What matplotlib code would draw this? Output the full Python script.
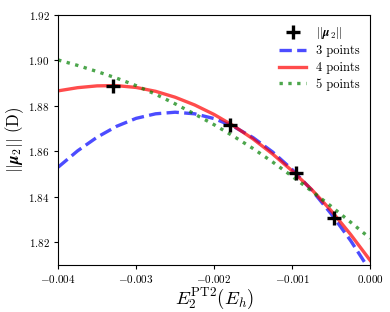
import matplotlib
matplotlib.use("Agg")
import matplotlib.pyplot as plt

plt.rcParams['font.family'] = 'serif'
plt.rcParams['font.serif'] = ['cmr10']
plt.rcParams['mathtext.fontset'] = 'cm'
plt.rcParams['axes.formatter.use_mathtext'] = True

# data points (E2 PT2, dipole norm)
pts_x = [-0.003295, -0.001795, -0.000949, -0.000462]
pts_y = [1.8888, 1.8716, 1.8503, 1.8308]

# extrapolation curves
curve_x = [-0.004, -0.00375, -0.0035, -0.00325, -0.003, -0.00275, -0.0025, -0.00225,
           -0.002, -0.00175, -0.0015, -0.00125, -0.001, -0.00075, -0.0005, -0.00025, 0.0]
fit3 = [1.8530, 1.8602, 1.8662, 1.8710, 1.8745, 1.8765, 1.8772, 1.8765,
        1.8744, 1.8709, 1.8660, 1.8597, 1.8520, 1.8430, 1.8325, 1.8207, 1.8074]
fit4 = [1.8866, 1.8880, 1.8888, 1.8889, 1.8881, 1.8864, 1.8838, 1.8804,
        1.8762, 1.8712, 1.8654, 1.8588, 1.8514, 1.8432, 1.8339, 1.8234, 1.8120]
fit5 = [1.9002, 1.8978, 1.8951, 1.8922, 1.8889, 1.8851, 1.8809, 1.8764,
        1.8717, 1.8666, 1.8612, 1.8553, 1.8490, 1.8425, 1.8358, 1.8288, 1.8217]

fig = plt.figure(figsize=(3.9, 3.12), dpi=100)
ax = fig.add_axes([0.149, 0.151, 0.8, 0.801])

ax.plot(pts_x, pts_y, '+', color='black', ms=10, mew=2.4, label=r'$||\boldsymbol{\mu}_2||$', zorder=5)
ax.plot(curve_x, fit3, '--', color='blue', alpha=0.7, lw=2.4, label='3 points')
ax.plot(curve_x, fit4, '-', color='red', alpha=0.7, lw=2.4, label='4 points')
ax.plot(curve_x, fit5, ':', color='green', alpha=0.7, lw=2.4, label='5 points')

ax.set_xlim(-0.004, 0.0)
ax.set_ylim(1.81, 1.92)
ax.set_xticks([-0.004, -0.003, -0.002, -0.001, 0.0])
ax.set_xticklabels(['$-0.004$', '$-0.003$', '$-0.002$', '$-0.001$', '$0.000$'])
ax.set_yticks([1.82, 1.84, 1.86, 1.88, 1.90, 1.92])
ax.set_yticklabels(['$1.82$', '$1.84$', '$1.86$', '$1.88$', '$1.90$', '$1.92$'])
ax.tick_params(labelsize=8, length=3, pad=3)

ax.set_xlabel(r'$E_2^{\mathrm{PT2}}(E_h)$', fontsize=13.5, labelpad=0)
ax.set_ylabel(r'$||\boldsymbol{\mu}_2||$ (D)', fontsize=12, labelpad=2)

ax.legend(loc='upper right', frameon=False, fontsize=9, handlelength=2.2,
          labelspacing=0.35, borderaxespad=0.4)

fig.savefig('out.png', dpi=100)
